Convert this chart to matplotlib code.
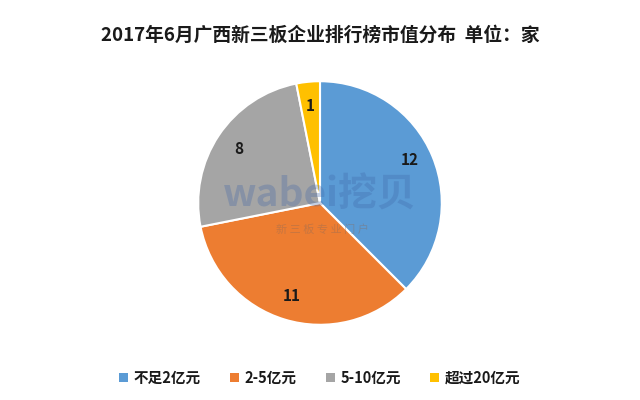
import matplotlib
matplotlib.use("Agg")
import matplotlib.pyplot as plt
from matplotlib.patches import Patch

plt.rcParams['font.family'] = ['Noto Sans CJK SC', 'DejaVu Sans']

categories = ['不足2亿元', '2-5亿元', '5-10亿元', '超过20亿元']
values = [12, 11, 8, 1]
colors = ['#5B9BD5', '#ED7D31', '#A5A5A5', '#FFC000']
title = '2017年6月广西新三板企业排行榜市值分布  单位：家'

fig = plt.figure(figsize=(6.4, 4.0), dpi=100)
fig.patch.set_facecolor('white')
ax = fig.add_axes([197/640, 74/400, 246/640, 246/400])
total = sum(values)
wedges, texts, autotexts = ax.pie(
    values, colors=colors, startangle=90, counterclock=False,
    wedgeprops=dict(edgecolor='white', linewidth=1.5),
    autopct=lambda p: f'{round(p * total / 100):d}', pctdistance=0.8,
    textprops=dict(fontsize=11, fontweight='bold', color='#1a1a1a'))
ax.autotexts = autotexts
autotexts[0].set_position((autotexts[0].get_position()[0], autotexts[0].get_position()[1] + 0.05))
ax.set_xlim(-1.01, 1.01)
ax.set_ylim(-1.01, 1.01)
ax.set_aspect('equal')

fig.text(0.5, 1 - 35/400, title, ha='center', va='center',
         fontsize=13.5, fontweight='bold', color='#1a1a1a')

# watermark
fig.text(320/640, 1 - 195/400, 'wabei挖贝', ha='center', va='center',
         fontsize=28, fontweight='bold', color='#3f66a8', alpha=0.3)
fig.text(322/640, 1 - 230/400, '新 三 板 专 业 门 户', ha='center', va='center',
         fontsize=8, color='#8a6a5a', alpha=0.4)

handles = [Patch(facecolor=c, edgecolor='none') for c in colors]
fig.legend(handles, categories, loc='center', bbox_to_anchor=(0.5, 1 - 378/400),
           ncol=4, frameon=False, handlelength=0.6, handleheight=0.6,
           handletextpad=0.4, columnspacing=2.0,
           prop=dict(size=10.5, weight='bold'), labelcolor='#1a1a1a')

fig.savefig('out.png', dpi=100, facecolor='white')
